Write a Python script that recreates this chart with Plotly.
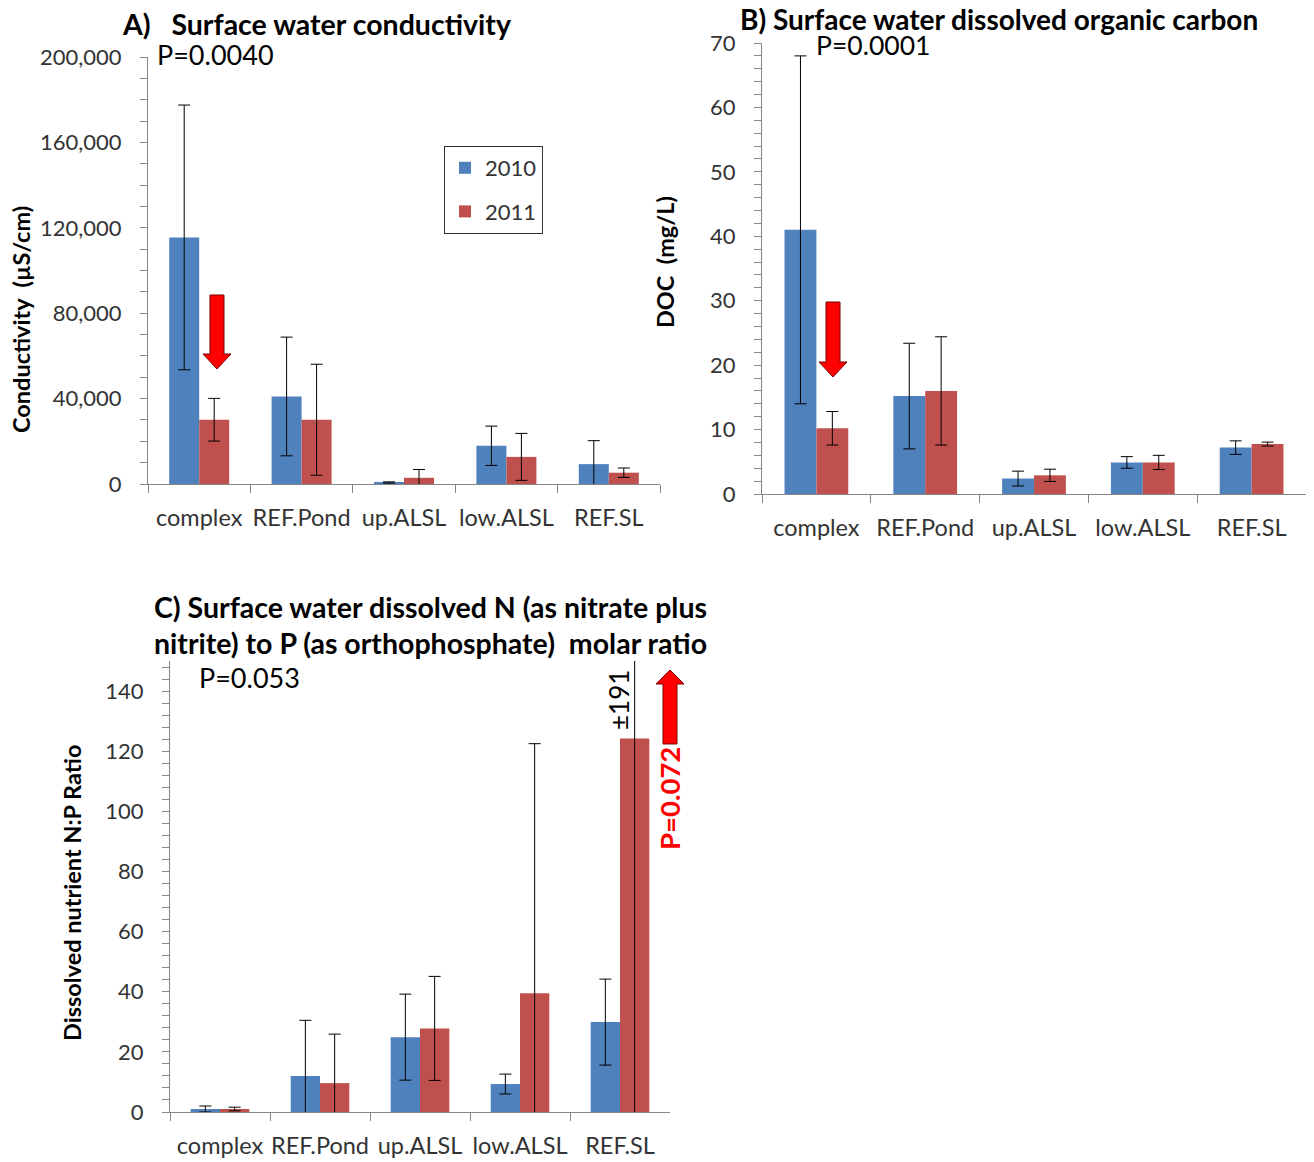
import plotly.graph_objects as go

# Reference canvas is 1314x1162; the page body has an 8px margin, so the
# figure is drawn 8px smaller and all reference pixel positions are shifted.
REF_W, REF_H = 1314, 1162
OX, OY = 8, 8
W, H = REF_W - OX, REF_H - OY

categories = ["complex", "REF.Pond", "up.ALSL", "low.ALSL", "REF.SL"]

cond_2010 = [115500, 41000, 700, 17900, 9300]
cond_2010_err = [62000, 27800, 300, 9200, 11000]
cond_2011 = [30100, 30100, 2900, 12700, 5300]
cond_2011_err = [10000, 26000, 3900, 11000, 2200]

doc_2010 = [41.0, 15.2, 2.4, 4.9, 7.2]
doc_2010_err = [27.0, 8.2, 1.15, 0.9, 1.05]
doc_2011 = [10.2, 16.0, 2.9, 4.9, 7.75]
doc_2011_err = [2.6, 8.4, 0.95, 1.1, 0.3]

np_2010 = [1.0, 12.0, 24.9, 9.3, 29.9]
np_2010_err = [1.0, 18.5, 14.3, 3.3, 14.3]
np_2011 = [1.0, 9.6, 27.8, 39.5, 124.2]
np_2011_err = [0.6, 16.3, 17.3, 83.0, 191.0]

years = ["2010", "2011"]
BLUE = "#4F81BD"
RED = "#C0504D"
FONT = "Lato"
AX = "#868686"
TXT = "#333333"


def px(x):
    return (x - OX) / W


def py(y):
    return 1 - (y - OY) / H


fig = go.Figure()

panels = [
    ("", "", cond_2010, cond_2010_err, cond_2011, cond_2011_err, True),
    ("2", "2", doc_2010, doc_2010_err, doc_2011, doc_2011_err, False),
    ("3", "3", np_2010, np_2010_err, np_2011, np_2011_err, False),
]

for xs, ys, v10, e10, v11, e11, show in panels:
    for name, vals, errs, col in [(years[0], v10, e10, BLUE), (years[1], v11, e11, RED)]:
        fig.add_trace(go.Bar(
            x=categories, y=vals, name=name,
            marker=dict(color=col, line=dict(width=0)),
            error_y=dict(type="data", array=errs, visible=True,
                         color="black", thickness=1, width=6),
            xaxis="x" + xs, yaxis="y" + ys,
            showlegend=show, legendgroup=name,
        ))


def xax(domain, anchor):
    return dict(domain=domain, anchor=anchor, type="category", automargin=False,
                showline=True, linecolor=AX, linewidth=1,
                ticks="outside", tickson="boundaries", ticklen=8, tickcolor=AX,
                showgrid=False, zeroline=False, fixedrange=True, tickangle=0,
                tickfont=dict(family=FONT, size=23.5, color=TXT),
                ticklabelstandoff=13)


def yax(domain, anchor, rng, dtick, minor, fmt=None):
    d = dict(domain=domain, anchor=anchor, range=rng, dtick=dtick, tick0=0, automargin=False,
             showline=True, linecolor=AX, linewidth=1,
             ticks="outside", ticklen=7, tickcolor=AX,
             minor=dict(dtick=minor, tick0=0, ticks="outside", ticklen=7, tickcolor=AX, showgrid=False),
             showgrid=False, zeroline=False,
             tickfont=dict(family=FONT, size=22, color=TXT),
             ticklabelstandoff=14)
    if fmt:
        d["tickformat"] = fmt
    return d


fig.update_layout(
    width=W, height=H,
    margin=dict(l=0, r=0, t=0, b=0, pad=0, autoexpand=False),
    paper_bgcolor="white", plot_bgcolor="white",
    barmode="group",
    bargap=0.414,
    bargroupgap=0,
    font=dict(family=FONT, color=TXT),
    xaxis=xax([px(148), px(660)], "y"),
    yaxis=yax([py(484), py(57)], "x", [0, 200000], 40000, 10000, ","),
    xaxis2=xax([px(762), px(1306)], "y2"),
    yaxis2=yax([py(494), py(43)], "x2", [0, 70], 10, 2),
    xaxis3=xax([px(170), px(670)], "y3"),
    yaxis3=yax([py(1112), py(661)], "x3", [0, 150], 20, 4),
    legend=dict(x=px(444), y=py(146), xanchor="left", yanchor="top",
                bordercolor="#333333", borderwidth=1, bgcolor="white",
                font=dict(family=FONT, size=22, color=TXT),
                tracegroupgap=12, traceorder="grouped"),
    showlegend=True,
)

anns = []


def ann(text, x, y, size, bold=False, color="black", xanchor="left", angle=0):
    t = "<b>" + text + "</b>" if bold else text
    anns.append(dict(text=t, x=px(x), y=py(y), xref="paper", yref="paper",
                     xanchor=xanchor, yanchor="middle", showarrow=False,
                     textangle=angle,
                     font=dict(family=FONT, size=size, color=color)))


NB = "\u00a0"
TS = 28.5
ann("A)" + NB * 3 + "Surface water conductivity", 120, 24, TS, bold=True)
ann("B) Surface water dissolved organic carbon", 738, 19, 28, bold=True)
ann("C) Surface water dissolved N (as nitrate plus", 152, 607, TS, bold=True)
ann("nitrite) to P (as orthophosphate)" + NB * 2 + "molar ratio", 152, 643, TS, bold=True)

ann("P=0.0040", 155, 55, 27)
ann("P=0.0001", 814, 45, 26.5)
ann("P=0.053", 197, 677, 27)

ann("Conductivity" + NB * 2 + "(µS/cm)", 21, 320, 23.5, bold=True, xanchor="center", angle=-90)
ann("DOC" + NB * 2 + "(mg/L)", 665, 262, 23.5, bold=True, xanchor="center", angle=-90)
ann("Dissolved nutrient N:P Ratio", 72, 893, 23.5, bold=True, xanchor="center", angle=-90)

ann("±191", 619, 700, 26, xanchor="center", angle=-90)
ann("P=0.072", 669, 799, 27.5, bold=True, color="#FF0000", xanchor="center", angle=-90)

fig.update_layout(annotations=anns)


def arrow_path(cx, sw, y_start, y_head, y_tip, hw):
    pts = [(cx - sw / 2, y_start), (cx + sw / 2, y_start), (cx + sw / 2, y_head),
           (cx + hw / 2, y_head), (cx, y_tip), (cx - hw / 2, y_head), (cx - sw / 2, y_head)]
    p = "M " + " L ".join(f"{px(a):.5f},{py(b):.5f}" for a, b in pts) + " Z"
    return p


shapes = []
for cx, ys, yh, yt in [(217, 295, 354, 369), (833, 302, 362, 377), (670, 744, 684, 670)]:
    shapes.append(dict(type="path", xref="paper", yref="paper",
                       path=arrow_path(cx, 14, ys, yh, yt, 28),
                       fillcolor="#FF0000", line=dict(color="#7A0000", width=1)))
fig.update_layout(shapes=shapes)

fig.write_html("out.html")
